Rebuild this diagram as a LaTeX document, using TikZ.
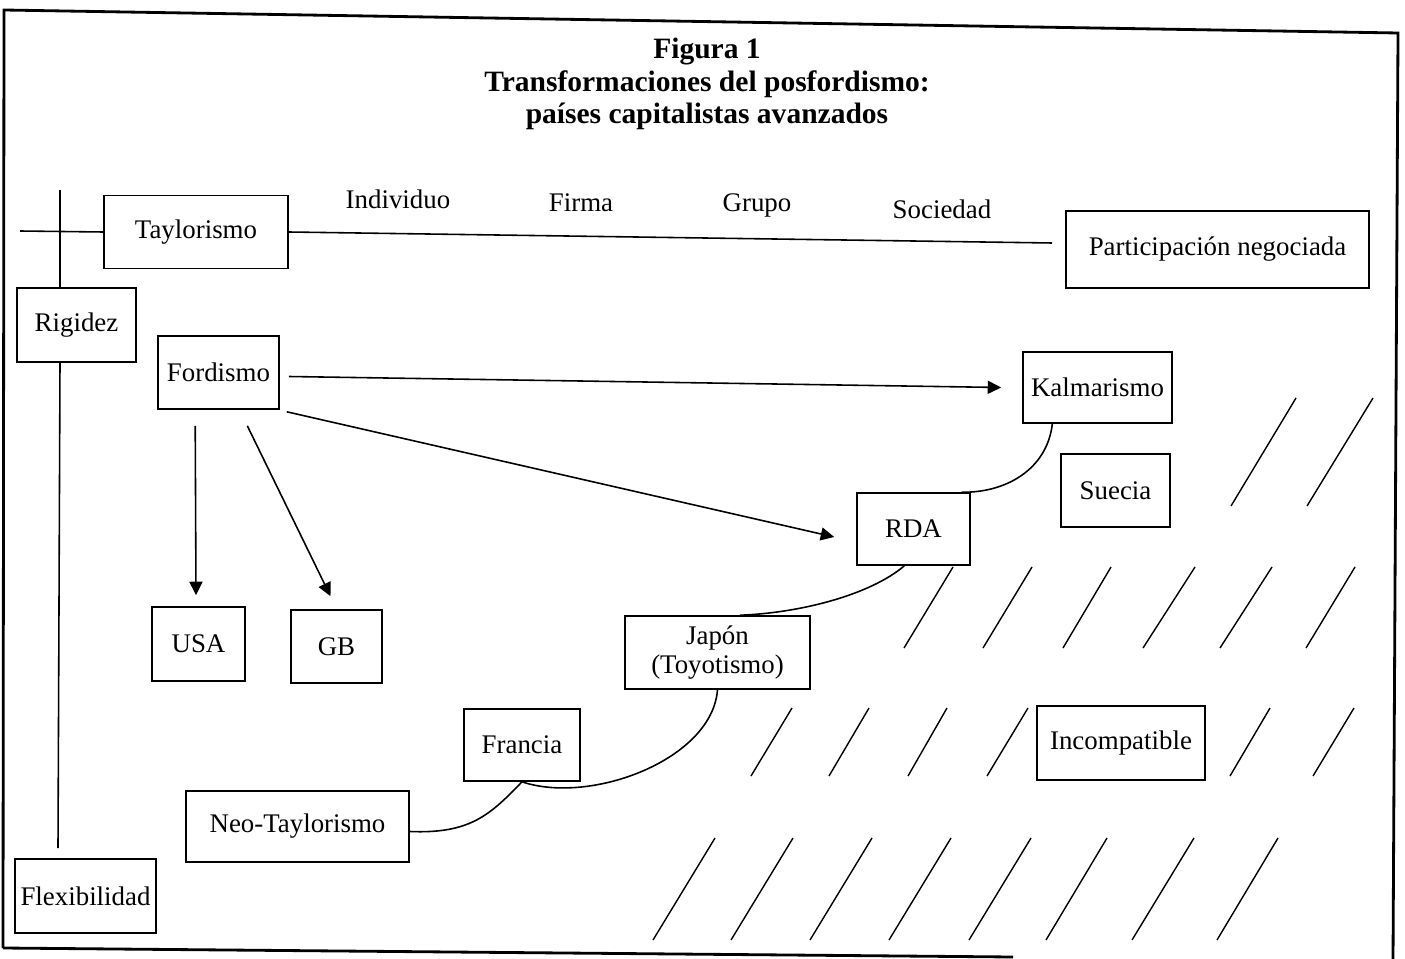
\documentclass[tikz,border=0pt]{standalone}
\usepackage{fontspec}
\setmainfont{Liberation Serif}
\usetikzlibrary{calc, arrows.meta}

\begin{document}
\begin{tikzpicture}[x=0.02cm, y=-0.02cm, line width=0.9pt,
  box/.style={draw, minimum height=1.46cm, inner sep=0pt, font=\fontsize{15.3}{16}\selectfont},
  word/.style={inner sep=0pt, font=\fontsize{15.3}{16}\selectfont},
  arr/.style={-{Triangle[length=0.27cm, width=0.26cm]}},
  hatch/.style={line width=0.8pt}]

\useasboundingbox (0,0) rectangle (1405,959);

% Frame of the figure (as scanned, slightly tilted)
\draw[line width=1.6pt] (3,948) -- (4,10) -- (1398,33) -- (1393,959);
\draw[line width=1.6pt] (3,948) -- (1013,957);

% Title
\node[align=center, font=\bfseries\fontsize{16.8}{18.6}\selectfont] (Title) at (707,84)
  {Figura 1\\Transformaciones del posfordismo:\\países capitalistas avanzados};

% Boxes
\node[box, minimum width=3.68cm] (Tay) at (196,232) {Taylorismo};
\node[box, minimum width=6.06cm, minimum height=1.54cm] (Part) at (1217.5,249.5) {Participación negociada};
\node[box, minimum width=2.38cm, minimum height=1.48cm] (Rig) at (76.5,325) {Rigidez};
\node[box, minimum width=2.82cm, minimum height=1.48cm] (Flex) at (85.5,896) {Flexibilidad};
\node[box, minimum width=2.42cm] (Ford) at (218.5,372.5) {Fordismo};
\node[box, minimum width=2.98cm, minimum height=1.42cm] (Kalm) at (1097.5,387.5) {Kalmarismo};
\node[box, minimum width=2.18cm] (Suec) at (1115.5,490.5) {Suecia};
\node[box, minimum width=2.26cm, minimum height=1.44cm] (RDA) at (913.5,529) {RDA};
\node[box, minimum width=1.86cm, minimum height=1.48cm] (USA) at (198.5,644) {USA};
\node[box, minimum width=1.82cm] (GB) at (336.5,646.5) {GB};
\node[box, minimum width=3.7cm, align=center] (Jap) at (717.5,652.5) {Japón\\(Toyotismo)};
\node[box, minimum width=2.32cm, minimum height=1.44cm] (Fran) at (522,745) {Francia};
\node[box, minimum width=4.46cm, minimum height=1.42cm] (Neo) at (297.5,826.5) {Neo-Taylorismo};
\node[box, minimum width=3.36cm, minimum height=1.48cm] (Inc) at (1121,743) {Incompatible};

% Labels along the top axis
\foreach \i/\j/\k in {Ind/398/Individuo, Firma/581/Firma, Grupo/757/Grupo} {
  \node[word] (\i) at (\j,199+\j/60-6) {\k};
}
\node[word] (Soc) at (942,209) {Sociedad};

% Axes
\coordinate (axisW) at (20,231);
\coordinate (axisE) at (1052,243);
\coordinate (axisN) at (60,190);
\coordinate (axisS) at (58,848);
\draw (axisW) -- (Tay.west);
\draw (Tay.east) -- (axisE);
\draw (axisN) -- (axisN |- Rig.north);
\draw (axisN |- Rig.south) -- (axisS);

% Arrows out of Fordismo
\draw[arr] ($(Ford.east)+(9,4)$) -- ($(Kalm.west)+(-21,0)$);
\draw[arr] ($(Ford.south east)+(7,2)$) -- ($(RDA.west)+(-22,8)$);
\draw[arr] ($(Ford.south west)!0.31!(Ford.south east)+(0,16)$) -- ($(USA.north)+(-2.5,-11)$);
\draw[arr] ($(Ford.south west)!0.735!(Ford.south east)+(0,16)$) -- ($(GB.north)+(-6,-13)$);

% Curved links
\draw ($(Kalm.south west)!0.2!(Kalm.south east)$) .. controls (1047,470) and (1005,493) .. ($(RDA.north west)!0.92!(RDA.north east)$);
\draw ($(RDA.south west)!0.42!(RDA.south east)$) .. controls (870,595) and (800,613) .. ($(Jap.north west)!0.62!(Jap.north east)$);
\draw (Jap.south) .. controls (712,760) and (590,805) .. (Fran.south);
\draw ($(Neo.east)+(0,5)$) .. controls (470,834) and (490,815) .. (Fran.south);

% Hatching of the incompatible zone
\foreach \b/\t in {1231/1296, 1307/1373} {
  \draw[hatch] (\b,506) -- (\t,398);
}
\foreach \b/\t in {904/953, 983/1032, 1063/1111, 1143/1195, 1220/1272, 1306/1355} {
  \draw[hatch] (\b,648) -- (\t,567);
}
\foreach \b/\t in {751/792, 829/869, 908/947, 987/1028, 1230/1270, 1313/1354} {
  \draw[hatch] (\b,776) -- (\t,708);
}
\foreach \b/\t in {653/715, 731/793, 810/872, 889/951, 969/1031, 1046/1107, 1132/1194, 1217/1278} {
  \draw[hatch] (\b,940) -- (\t,838);
}

\end{tikzpicture}
\end{document}
